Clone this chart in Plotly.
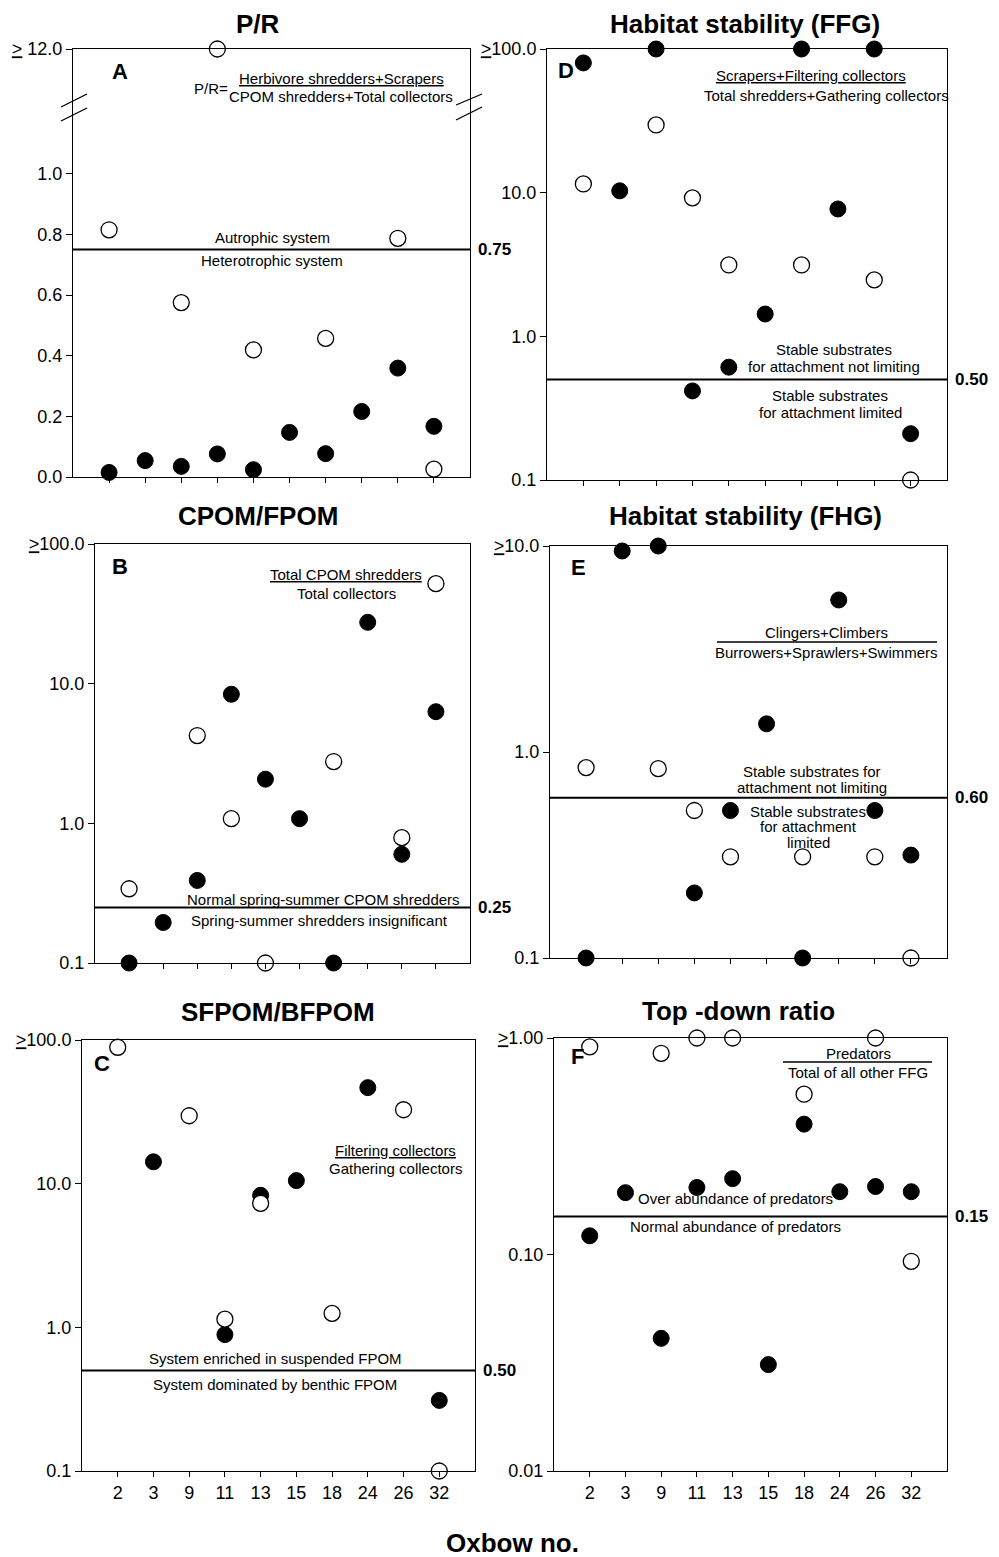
import math
import plotly.graph_objects as go

W, H = 999, 1557

# ---------------- data ----------------
oxbows = ["2", "3", "9", "11", "13", "15", "18", "24", "26", "32"]
positions = list(range(1, 11))

pr_filled = [0.015, 0.054, 0.035, 0.076, 0.024, 0.147, 0.077, 0.216, 0.359, 0.167]
pr_open = [0.815, None, 0.575, 12.0, 0.419, None, 0.457, None, 0.787, 0.026]
pr_threshold = 0.75

ffg_filled = [80, 10.3, 100, 0.417, 0.61, 1.43, 100, 7.7, 100, 0.21]
ffg_open = [11.5, None, 29.6, 9.2, 3.14, None, 3.14, None, 2.47, 0.1]
ffg_threshold = 0.50

cf_filled = [0.1, 0.195, 0.39, 8.4, 2.07, 1.08, 0.1, 27.5, 0.6, 6.3]
cf_open = [0.34, None, 4.25, 1.08, 0.1, None, 2.77, None, 0.79, 52]
cf_threshold = 0.25

fhg_filled = [0.1, 9.46, 10, 0.207, 0.52, 1.37, 0.1, 5.47, 0.52, 0.316]
fhg_open = [0.84, None, 0.83, 0.52, 0.31, None, 0.31, None, 0.31, 0.1]
fhg_threshold = 0.60

sb_filled = [None, 14.2, None, 0.89, 8.3, 10.5, None, 46.6, None, 0.31]
sb_open = [89, None, 29.7, 1.14, 7.3, None, 1.25, None, 32.7, 0.1]
sb_threshold = 0.50

td_filled = [0.122, 0.193, 0.041, 0.204, 0.224, 0.031, 0.40, 0.195, 0.206, 0.195]
td_open = [0.91, None, 0.85, 1.0, 1.0, None, 0.55, None, 1.0, 0.093]
td_threshold = 0.15

# ---------------- styling ----------------
REG = "Liberation Sans, Arial, sans-serif"
TXT = 15

PR_TOP = 1.411  # axis position standing for the broken-axis value ">= 12.0"


def px(x):
    return x / W


def py(y):
    return 1 - y / H


panels = [
    dict(id="", filled=pr_filled, opn=pr_open, thr=pr_threshold, type="linear", cap=12.0,
         rng=[0, PR_TOP], tv=[0, 0.2, 0.4, 0.6, 0.8, 1.0, PR_TOP],
         tt=["0.0", "0.2", "0.4", "0.6", "0.8", "1.0", "<u>></u> 12.0"],
         xd=(73, 470), yd=(49, 477), bottom=False),
    dict(id="2", filled=ffg_filled, opn=ffg_open, thr=ffg_threshold, type="log", cap=100,
         rng=[-1, 2], tv=[0.1, 1, 10, 100], tt=["0.1", "1.0", "10.0", "<u>></u>100.0"],
         xd=(547, 947), yd=(49, 480), bottom=False),
    dict(id="3", filled=cf_filled, opn=cf_open, thr=cf_threshold, type="log", cap=100,
         rng=[-1, 2], tv=[0.1, 1, 10, 100], tt=["0.1", "1.0", "10.0", "<u>></u>100.0"],
         xd=(95, 470), yd=(544, 963), bottom=False),
    dict(id="4", filled=fhg_filled, opn=fhg_open, thr=fhg_threshold, type="log", cap=10,
         rng=[-1, 1], tv=[0.1, 1, 10], tt=["0.1", "1.0", "<u>></u>10.0"],
         xd=(550, 947), yd=(546, 958), bottom=False),
    dict(id="5", filled=sb_filled, opn=sb_open, thr=sb_threshold, type="log", cap=100,
         rng=[-1, 2], tv=[0.1, 1, 10, 100], tt=["0.1", "1.0", "10.0", "<u>></u>100.0"],
         xd=(82, 475), yd=(1040, 1471), bottom=True),
    dict(id="6", filled=td_filled, opn=td_open, thr=td_threshold, type="log", cap=1.0,
         rng=[-2, 0], tv=[0.01, 0.1, 1], tt=["0.01", "0.10", "<u>></u>1.00"],
         xd=(554, 947), yd=(1038, 1471), bottom=True),
]


def to_axis(v, p):
    if v is None:
        return None
    v = min(v, p["cap"])
    if p["type"] == "linear" and v > 1.2:
        return PR_TOP
    return v


fig = go.Figure()
layout = dict(
    template="none",
    width=W, height=H, margin=dict(l=0, r=0, t=0, b=0, pad=0), autosize=False,
    paper_bgcolor="white", plot_bgcolor="white", showlegend=False,
    font=dict(family=REG, size=18, color="black"),
)
annotations = []
shapes = []

for p in panels:
    xa = "x" + p["id"]
    ya = "y" + p["id"]
    xkey = "xaxis" + p["id"]
    ykey = "yaxis" + p["id"]
    layout[xkey] = dict(
        domain=[px(p["xd"][0]), px(p["xd"][1])], range=[0, 11], anchor=ya,
        tickmode="array", tickvals=positions, ticktext=oxbows, automargin=False,
        showticklabels=p["bottom"], ticks="outside", ticklen=5, tickwidth=1,
        tickcolor="black", showline=True, linecolor="black", linewidth=1,
        mirror=True, showgrid=False, zeroline=False,
        tickfont=dict(family=REG, size=18),
    )
    layout[ykey] = dict(
        domain=[py(p["yd"][1]), py(p["yd"][0])], type=p["type"], range=p["rng"],
        anchor=xa, tickmode="array", tickvals=p["tv"], ticktext=p["tt"], automargin=False,
        ticks="outside", ticklen=6, tickwidth=1, tickcolor="black",
        showline=True, linecolor="black", linewidth=1, mirror=True,
        showgrid=False, zeroline=False, tickfont=dict(family=REG, size=18),
    )
    fig.add_trace(go.Scatter(
        x=[0, 11], y=[p["thr"], p["thr"]], mode="lines", xaxis=xa, yaxis=ya,
        line=dict(color="black", width=2), hoverinfo="skip", cliponaxis=False))
    fig.add_trace(go.Scatter(
        x=positions, y=[to_axis(v, p) for v in p["filled"]], mode="markers",
        xaxis=xa, yaxis=ya, cliponaxis=False,
        marker=dict(size=16, color="black", line=dict(color="black", width=1))))
    fig.add_trace(go.Scatter(
        x=positions, y=[to_axis(v, p) for v in p["opn"]], mode="markers",
        xaxis=xa, yaxis=ya, cliponaxis=False,
        marker=dict(size=16, color="white", line=dict(color="black", width=1.3))))
    yv = p["thr"] if p["type"] == "linear" else math.log10(p["thr"])
    annotations.append(dict(
        text="<b>%.2f</b>" % p["thr"], xref=xa + " domain", yref=ya, x=1, y=yv,
        xanchor="left", yanchor="middle", xshift=6, showarrow=False,
        font=dict(family=REG, size=17)))


def ann(text, x, y, size=TXT, bold=False, xanchor="center"):
    annotations.append(dict(
        text=("<b>%s</b>" % text) if bold else text, xref="paper", yref="paper",
        x=px(x), y=py(y), xanchor=xanchor, yanchor="middle", showarrow=False,
        font=dict(family=REG, size=size, color="black")))


for t, x, y in [("P/R", 258, 24), ("Habitat stability (FFG)", 745, 24),
                ("CPOM/FPOM", 258, 516), ("Habitat stability (FHG)", 745, 516),
                ("SFPOM/BFPOM", 278, 1012), ("Top -down ratio", 738, 1011)]:
    ann(t, x, y, size=26, bold=True)

for t, x, y in [("A", 120, 72), ("D", 566, 70), ("B", 120, 566),
                ("E", 578, 567), ("C", 102, 1063), ("F", 577, 1056)]:
    ann(t, x, y, size=22, bold=True)

ann("P/R=", 230, 88, xanchor="right")
ann("<u>Herbivore shredders+Scrapers</u>", 341, 78)
ann("CPOM shredders+Total collectors", 341, 97)
ann("Autrophic system", 272, 237)
ann("Heterotrophic system", 272, 261)

ann("<u>Scrapers+Filtering collectors</u>", 811, 76)
ann("Total shredders+Gathering collectors", 826, 95)
ann("Stable substrates", 834, 349)
ann("for attachment not limiting", 834, 366)
ann("Stable substrates", 830, 395)
ann("for attachment limited", 830, 412)

ann("<u>Total CPOM shredders</u>", 346, 575)
ann("Total collectors", 346, 594)
ann("Normal spring-summer CPOM shredders", 323, 899)
ann("Spring-summer shredders insignificant", 319, 921)

ann("Clingers+Climbers", 826, 632)
ann("Burrowers+Sprawlers+Swimmers", 826, 652)
shapes.append(dict(type="line", xref="paper", yref="paper", x0=px(717), x1=px(937),
                   y0=py(642), y1=py(642), line=dict(color="black", width=1.5)))
ann("Stable substrates for", 812, 772)
ann("attachment not limiting", 812, 787)
ann("Stable substrates", 808, 811)
ann("for attachment", 808, 826)
ann("limited", 808, 842)

ann("<u>Filtering collectors</u>", 395, 1150)
ann("Gathering collectors", 395, 1168)
ann("System enriched in suspended FPOM", 275, 1358)
ann("System dominated by benthic FPOM", 275, 1384)

ann("Predators", 858, 1053)
shapes.append(dict(type="line", xref="paper", yref="paper", x0=px(783), x1=px(932),
                   y0=py(1062), y1=py(1062), line=dict(color="black", width=1.5)))
ann("Total of all other FFG", 858, 1072)
ann("Over abundance of predators", 735, 1198)
ann("Normal abundance of predators", 735, 1226)

ann("Oxbow no.", 512, 1543, size=26, bold=True)

for (x0, y0, x1, y1) in [(61, 107, 87, 94), (61, 121, 87, 108),
                         (456, 105, 482, 94), (456, 120, 482, 107)]:
    shapes.append(dict(type="line", xref="paper", yref="paper", x0=px(x0), y0=py(y0),
                       x1=px(x1), y1=py(y1), line=dict(color="black", width=1.3)))

layout["annotations"] = annotations
layout["shapes"] = shapes
fig.update_layout(**layout)
fig.write_html("out.html", config={"displayModeBar": False},
               post_script="document.body.style.margin='0px';")
